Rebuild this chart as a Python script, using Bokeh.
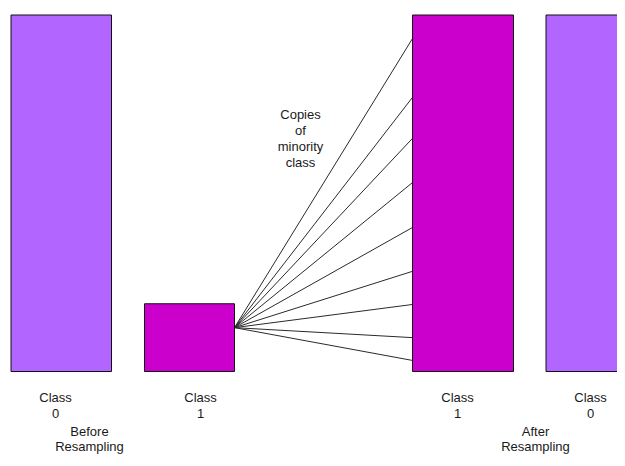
from bokeh.plotting import figure
from bokeh.models import Range1d, ColumnDataSource
from bokeh.core.properties import value
from bokeh.embed import file_html
from bokeh.resources import INLINE

# ---- data ----
bar_class = [0, 1, 1, 0]                      # class of each bar
bar_count = [100, 19, 100, 100]               # relative sample counts
group_labels = ["Before\nResampling", "After\nResampling"]
copy_levels = [93.4, 76.9, 65.4, 53.0, 40.4, 28.1, 18.8, 9.5, 3.1]  # where copies land in the new bar
copy_origin = 12.3                            # where copies leave the minority bar
note_text = "Copies\nof\nminority\nclass"

# ---- layout (reference-image pixels) ----
bar_left = [10.5, 144, 412, 545.5]
bar_right = [111, 234, 513, 646]
bar_colors = ["#B266FF", "#CC00CC", "#CC00CC", "#B266FF"]
label_x = [55, 200, 457, 590]
group_x = [89, 535]

W, H = 617, 458
BASE_PX, TOP_PX = 371.0, 14.5
SCALE = (BASE_PX - TOP_PX) / 100.0


def ypx(py):
    return (BASE_PX - py) / SCALE


FONT = value("Liberation Sans")
FS = "13px"

p = figure(width=W, height=H, output_backend="svg", toolbar_location=None,
           x_range=Range1d(0, W), y_range=Range1d(ypx(H), ypx(0)),
           min_border=0, outline_line_color=None, background_fill_color="white",
           border_fill_color="white")
p.xaxis.visible = False
p.yaxis.visible = False
p.grid.visible = False

# copy lines
p.segment(x0=[bar_right[1]] * len(copy_levels), y0=[copy_origin] * len(copy_levels),
          x1=[bar_left[2]] * len(copy_levels), y1=copy_levels,
          line_color="#2a2a2a", line_width=1)

# bars
src = ColumnDataSource(dict(left=bar_left, right=bar_right, top=bar_count,
                            bottom=[0] * 4, color=bar_colors))
p.quad(left="left", right="right", top="top", bottom="bottom", source=src,
       fill_color="color", line_color="#111111", line_width=1)


def add_lines(x, first_py, text, step):
    xs, ys, ts = [], [], []
    for i, t in enumerate(text.split("\n")):
        xs.append(x)
        ys.append(ypx(first_py + i * step))
        ts.append(t)
    return xs, ys, ts


tx, ty, tt = [], [], []
for cx, c in zip(label_x, bar_class):
    a, b, t = add_lines(cx, 397, "Class\n%d" % c, 16)
    tx += a; ty += b; tt += t
for gx, g in zip(group_x, group_labels):
    a, b, t = add_lines(gx, 431, g, 15)
    tx += a; ty += b; tt += t
a, b, t = add_lines(300, 114, note_text, 16)
tx += a; ty += b; tt += t

p.text(x=tx, y=ty, text=tt, text_font=FONT, text_font_size=FS,
       text_color="#1a1a1a", text_align="center", text_baseline="middle")

open("out.html", "w").write(file_html(p, INLINE))
